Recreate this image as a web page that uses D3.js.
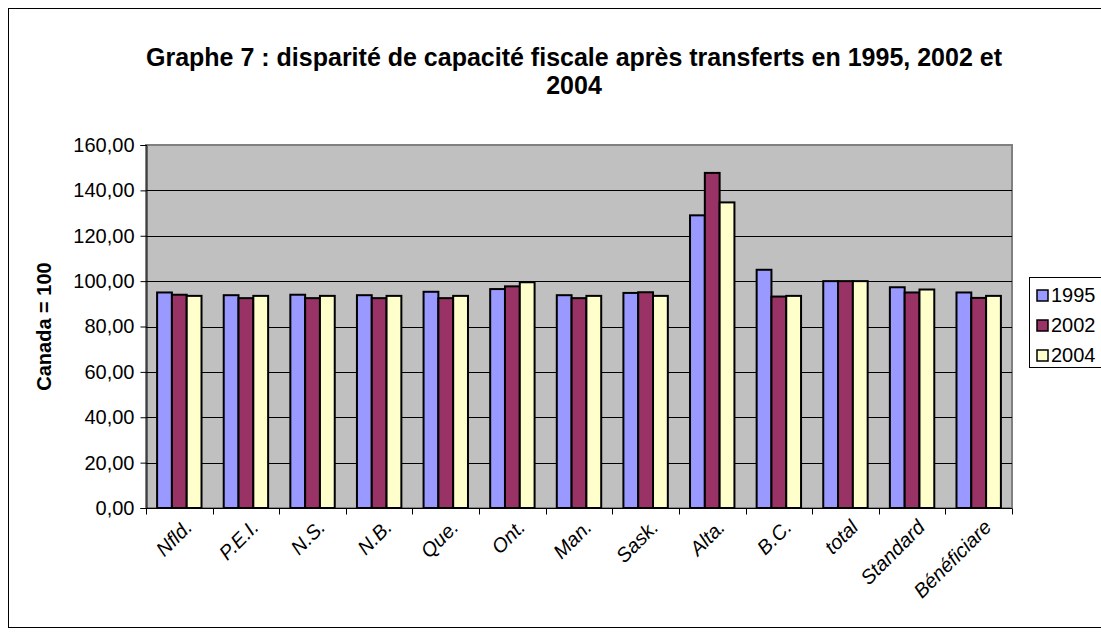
<!DOCTYPE html>
<meta charset="utf-8">
<html><head>
<style>
body { margin: 0; background: #fff; }
text { font-family: "Liberation Sans", Arial, sans-serif; }
.grid line { stroke: #000; stroke-width: 1px; }
.bars rect { stroke: #000; stroke-width: 2px; }
</style>
</head>
<body>
<svg width="1101" height="637"></svg>
<script src="https://d3js.org/d3.v7.min.js"></script>
<script>

var categories = ["Nfld.", "P.E.I.", "N.S.", "N.B.", "Que.", "Ont.", "Man.", "Sask.", "Alta.", "B.C.", "total", "Standard", "Bénéficiare"];
var years = ["1995", "2002", "2004"];
var v1995 = [95.0, 93.8, 94.0, 93.8, 95.3, 96.5, 93.8, 94.8, 129.0, 105.0, 100.0, 97.3, 95.0];
var v2002 = [94.0, 92.5, 92.5, 92.5, 92.5, 97.7, 92.5, 95.1, 147.7, 93.2, 100.0, 95.0, 92.6];
var v2004 = [93.5, 93.5, 93.5, 93.5, 93.5, 99.5, 93.5, 93.5, 134.7, 93.5, 100.0, 96.3, 93.5];
var yTicks = [0, 20, 40, 60, 80, 100, 120, 140, 160];
var colors = ["#9999FF", "#993366", "#FFFFCC"];

var series = [v1995, v2002, v2004];

var svg = d3.select("svg");

// outer chart border
svg.append("rect")
    .attr("x", 8.5).attr("y", 8.5)
    .attr("width", 1110).attr("height", 619)
    .attr("fill", "#fff").attr("stroke", "#000").attr("stroke-width", 1);

var pLeft = 146, pRight = 1012, pTop = 145, pBottom = 508;

var x = d3.scaleBand().domain(categories).range([pLeft, pRight]);
var inner = d3.scaleBand().domain(years).range([0, x.bandwidth()])
    .paddingInner(0).paddingOuter(0.75);
var y = d3.scaleLinear().domain([0, 160]).range([pBottom, pTop]);

// plot area
svg.append("rect")
    .attr("x", pLeft).attr("y", pTop)
    .attr("width", pRight - pLeft).attr("height", pBottom - pTop)
    .attr("fill", "#C0C0C0").attr("stroke", "#808080").attr("stroke-width", 2);

svg.append("g")
    .attr("class", "grid")
  .selectAll("line")
  .data(yTicks.slice(1, -1))
  .enter().append("line")
    .attr("x1", pLeft).attr("x2", pRight)
    .attr("y1", function(d) { return Math.round(y(d)) + 0.5; })
    .attr("y2", function(d) { return Math.round(y(d)) + 0.5; });

// bars
var rows = [];
categories.forEach(function(c, i) {
  years.forEach(function(yr, j) {
    rows.push({cat: c, year: yr, value: series[j][i], k: j});
  });
});

svg.append("g")
    .attr("class", "bars")
  .selectAll("rect")
  .data(rows)
  .enter().append("rect")
    .attr("x", function(d) { return x(d.cat) + inner(d.year); })
    .attr("y", function(d) { return y(d.value); })
    .attr("width", inner.bandwidth())
    .attr("height", function(d) { return y(0) - y(d.value); })
    .attr("fill", function(d) { return colors[d.k]; });

// y axis
var yAxis = svg.append("g")
    .attr("transform", "translate(" + (pLeft + 0.5) + ",0)")
    .call(d3.axisLeft(y).tickValues(yTicks).tickSize(6).tickPadding(6)
      .tickFormat(function(d) { return d3.format(".2f")(d).replace(".", ","); }));
yAxis.select(".domain").attr("stroke", "#000");
yAxis.selectAll("line").attr("stroke", "#000");
yAxis.selectAll("text").attr("font-size", "20px").attr("fill", "#000")
    .style("font-family", "'Liberation Sans', Arial, sans-serif");

// x axis
var xAxis = svg.append("g")
    .attr("transform", "translate(0," + (pBottom + 0.5) + ")");
xAxis.append("line")
    .attr("x1", pLeft).attr("x2", pRight).attr("stroke", "#000");
xAxis.selectAll(".tk")
  .data(categories.concat([null]))
  .enter().append("line")
    .attr("class", "tk")
    .attr("x1", function(d, i) { return Math.round(pLeft + i * x.step()) + 0.5; })
    .attr("x2", function(d, i) { return Math.round(pLeft + i * x.step()) + 0.5; })
    .attr("y1", 0).attr("y2", 6).attr("stroke", "#000");

xAxis.selectAll(".lbl")
  .data(categories)
  .enter().append("text")
    .attr("class", "lbl")
    .attr("text-anchor", "end")
    .attr("font-size", "20px")
    .attr("font-style", "italic")
    .attr("transform", function(d) {
      return "translate(" + (x(d) + x.bandwidth() / 2 + 14) + ",20) rotate(-45)";
    })
    .text(function(d) { return d; });

// y axis title
svg.append("text")
    .attr("transform", "translate(51," + ((pTop + pBottom) / 2) + ") rotate(-90)")
    .attr("text-anchor", "middle")
    .attr("font-size", "20px")
    .attr("font-weight", "bold")
    .text("Canada = 100");

// title
var title = svg.append("text")
    .attr("text-anchor", "middle")
    .attr("font-size", "25px")
    .attr("font-weight", "bold");
title.append("tspan").attr("x", 574).attr("y", 66)
    .text("Graphe 7 : disparité de capacité fiscale après transferts en 1995, 2002 et");
title.append("tspan").attr("x", 574).attr("y", 94).text("2004");

// legend
var legend = svg.append("g").attr("transform", "translate(1029,277)");
legend.append("rect")
    .attr("x", 0.5).attr("y", 0.5).attr("width", 100).attr("height", 90)
    .attr("fill", "#fff").attr("stroke", "#000");
var items = legend.selectAll(".item")
  .data(years)
  .enter().append("g")
    .attr("class", "item")
    .attr("transform", function(d, i) { return "translate(8," + (13 + i * 30) + ")"; });
items.append("rect")
    .attr("width", 11).attr("height", 11)
    .attr("fill", function(d, i) { return colors[i]; })
    .attr("stroke", "#000").attr("stroke-width", 1.5);
items.append("text")
    .attr("x", 14).attr("y", 12)
    .attr("font-size", "20px")
    .text(function(d) { return d; });

</script>
</body>
</html>
